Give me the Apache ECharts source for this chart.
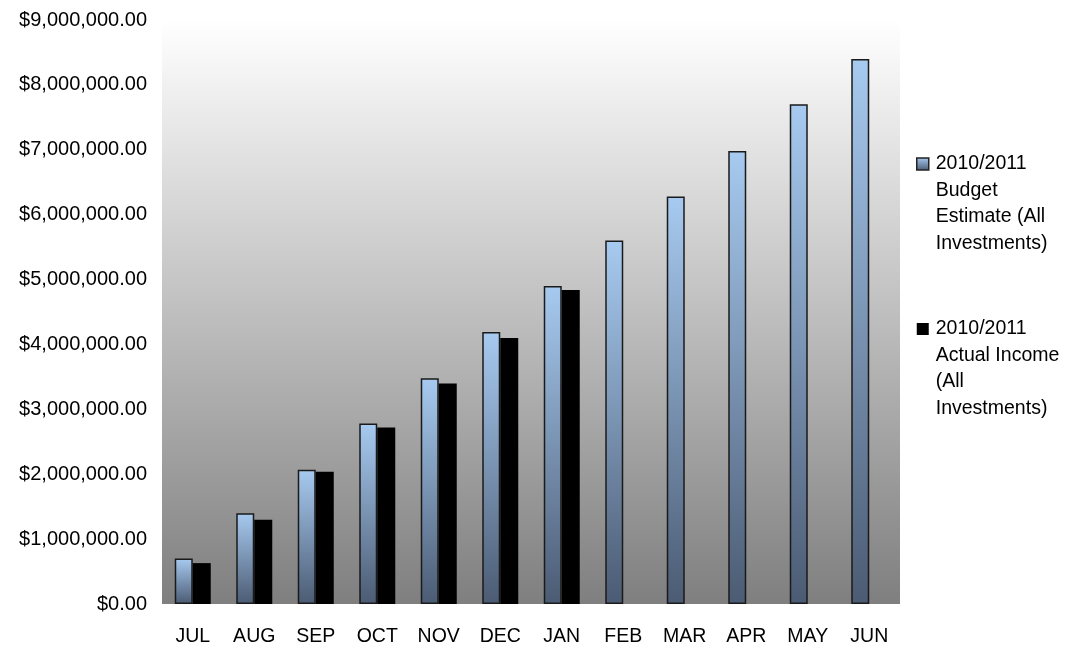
<!DOCTYPE html>
<html>
<head>
<meta charset="utf-8">
<script src="https://cdn.jsdelivr.net/npm/echarts@6/dist/echarts.min.js"></script>
<style>
  html, body { margin: 0; padding: 0; background: #fff; }
  #chart { width: 1080px; height: 647px; }
</style>
</head>
<body>
<div id="chart"></div>
<script>
// months of the 2010/2011 financial year
var months = ['JUL', 'AUG', 'SEP', 'OCT', 'NOV', 'DEC', 'JAN', 'FEB', 'MAR', 'APR', 'MAY', 'JUN'];
var budget = [700000, 1400000, 2070000, 2780000, 3480000, 4190000, 4900000, 5600000, 6280000, 6980000, 7700000, 8400000];
var actual = [630000, 1300000, 2040000, 2720000, 3400000, 4100000, 4840000, null, null, null, null, null];
var seriesNames = ['2010/2011\nBudget\nEstimate (All\nInvestments)', '2010/2011\nActual Income\n(All\nInvestments)'];

var chart = echarts.init(document.getElementById('chart'));

function money(v) {
    return '$' + Number(v).toLocaleString('en-US', {minimumFractionDigits: 2, maximumFractionDigits: 2});
}

var budgetFill = {
    type: 'linear', x: 0, y: 0, x2: 0, y2: 1,
    colorStops: [
        { offset: 0, color: '#a7caf0' },
        { offset: 1, color: '#4b5b73' }
    ],
    global: false
};

// legend lines are 26.5px; 3 blank lines in front keep the icon level with the first line
var LH = 26.5;

var option = {
    animation: false,
    textStyle: { fontFamily: 'Liberation Sans, Arial, sans-serif' },
    grid: {
        left: 162,
        right: 180,
        top: 20,
        bottom: 39,
        show: true,
        borderWidth: 0,
        backgroundColor: {
            type: 'linear', x: 0, y: 0, x2: 0, y2: 1,
            colorStops: [
                { offset: 0, color: '#ffffff' },
                { offset: 1, color: '#7f7f7f' }
            ]
        }
    },
    legend: {
        orient: 'vertical',
        left: 916,
        top: 164 - 3.5 * LH,
        padding: 0,
        itemWidth: 12,
        itemHeight: 12,
        itemGap: 165 - 7 * LH,
        icon: 'rect',
        formatter: function (name) { return '\n\n\n' + name; },
        textStyle: { fontSize: 19.5, color: '#000', lineHeight: LH, padding: [0, 0, 0, 2] },
        data: [
            { name: seriesNames[0], itemStyle: { color: budgetFill, borderColor: '#222', borderWidth: 1.5 } },
            { name: seriesNames[1], itemStyle: { color: '#000' } }
        ]
    },
    xAxis: {
        type: 'category',
        data: months,
        axisLine: { show: false },
        axisTick: { show: false },
        axisLabel: { color: '#000', fontSize: 19.5, margin: 23 }
    },
    yAxis: {
        type: 'value',
        min: 0,
        max: 9000000,
        interval: 1000000,
        splitLine: { show: false },
        axisLine: { show: false },
        axisTick: { show: false },
        axisLabel: { color: '#000', fontSize: 20, margin: 15, formatter: money }
    },
    series: [
        {
            name: seriesNames[0],
            type: 'bar',
            data: budget,
            barWidth: 18,
            barGap: '0%',
            itemStyle: {
                color: budgetFill,
                borderColor: '#1a1a1a',
                borderWidth: 1.5
            }
        },
        {
            name: seriesNames[1],
            type: 'bar',
            data: actual,
            barWidth: 18,
            itemStyle: { color: '#000' }
        }
    ]
};
chart.setOption(option);
</script>
</body>
</html>
